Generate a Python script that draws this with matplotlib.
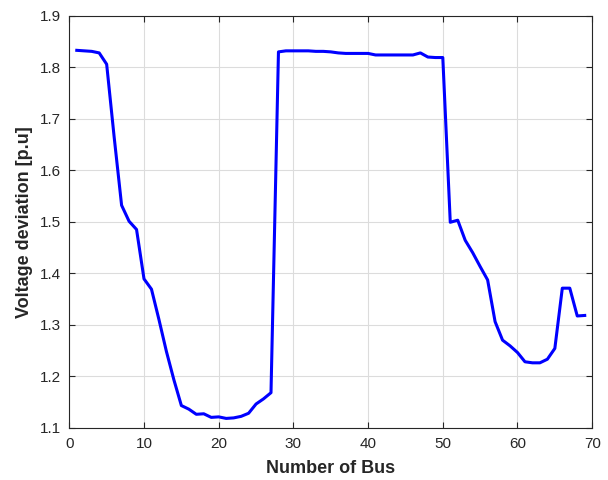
import numpy as np
import matplotlib.pyplot as plt

plt.rcParams['font.family'] = ['Liberation Sans', 'DejaVu Sans']

# numero de barras e desvio de tensao
bus = np.arange(1, 70)
volt_dev = [
    1.833, 1.832, 1.831, 1.828, 1.806, 1.665, 1.532, 1.501, 1.485, 1.389,
    1.369, 1.310, 1.248, 1.193, 1.143, 1.136, 1.126, 1.127, 1.120, 1.121,
    1.118, 1.119, 1.122, 1.128, 1.146, 1.156, 1.168, 1.830, 1.832, 1.832,
    1.832, 1.832, 1.831, 1.831, 1.830, 1.828, 1.827, 1.827, 1.827, 1.827,
    1.824, 1.824, 1.824, 1.824, 1.824, 1.824, 1.828, 1.820, 1.819, 1.819,
    1.499, 1.503, 1.464, 1.440, 1.413, 1.387, 1.306, 1.270, 1.259, 1.246,
    1.228, 1.226, 1.226, 1.233, 1.254, 1.371, 1.371, 1.317, 1.318,
]

fig = plt.figure(figsize=(6.08, 4.8), dpi=100)
ax = fig.add_axes([0.114, 0.109, 0.86, 0.858])

ax.plot(bus, volt_dev, color=(0, 0, 1), linewidth=2.2)

ax.set_xlim(0, 70)
ax.set_ylim(1.1, 1.9)
ax.set_xticks(np.arange(0, 71, 10))
ax.set_yticks(np.arange(1.1, 1.91, 0.1))
ax.grid(True, color='#dcdcdc', linewidth=0.8)
ax.tick_params(direction='in', top=True, right=True, labelsize=11,
               colors='#262626', length=4)
ax.tick_params(axis='x', pad=7)
ax.tick_params(axis='y', pad=6)
for s in ax.spines.values():
    s.set_color('#262626')

ax.set_xlabel('Number of Bus', fontsize=13, fontweight='bold',
              color='#262626', labelpad=6)
ax.set_ylabel('Voltage deviation [p.u]', fontsize=13, fontweight='bold',
              color='#262626', labelpad=5)

fig.savefig('out.png', dpi=100)
